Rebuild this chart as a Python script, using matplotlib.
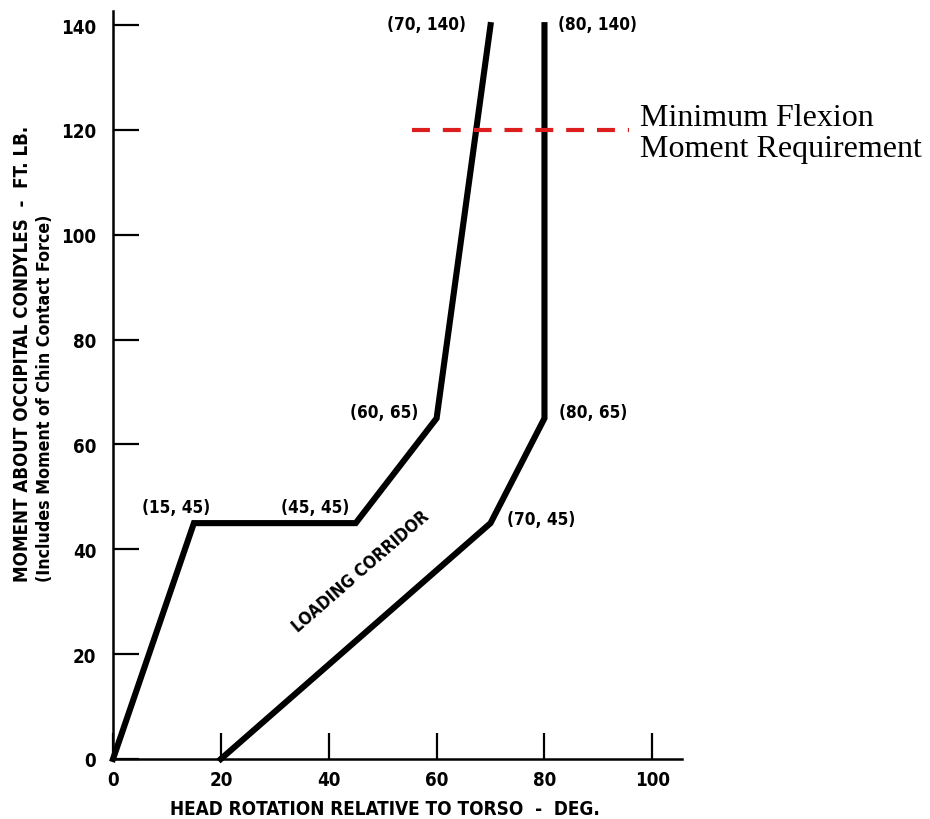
import matplotlib
matplotlib.use('Agg')
import matplotlib.pyplot as plt
from matplotlib import font_manager

# pick a narrow bold sans for the hand-lettered look
def narrow_font():
    files = [f.fname for f in font_manager.fontManager.ttflist]
    wanted = ['LiberationSansNarrow-Bold.', 'DejaVuSansCondensed-Bold.',
              'RobotoCondensed-Bold', 'Roboto_Condensed-Bold', 'NotoSans-CondensedBold',
              'OpenSans-CondensedBold', 'OpenSans_Condensed-Bold']
    for key in wanted:
        for fn in files:
            if key in fn:
                return fn
    for fn in files:
        low = fn.lower()
        if ('condensed' in low or 'narrow' in low) and 'bold' in low and 'italic' not in low:
            return fn
    return None

font_file = narrow_font()


def letter(size):
    if font_file:
        return font_manager.FontProperties(fname=font_file, size=size)
    return font_manager.FontProperties(family='DejaVu Sans', weight='bold', size=size)


# corridor boundaries (deg, ft-lb)
upper_x = [0, 15, 45, 60, 70]
upper_y = [0, 45, 45, 65, 140]
lower_x = [20, 70, 80, 80]
lower_y = [0, 45, 65, 140]

# labelled corner points and where their labels sit (pixel offsets)
corners = [(15, 45), (45, 45), (60, 65), (70, 140), (80, 140), (80, 65), (70, 45)]
corner_offsets = [(-18, 16), (-41, 16), (-52, 6), (-64, 1), (53, 1), (49, 6), (51, 4)]

# minimum flexion moment requirement
req_moment = 120
req_x = [55.5, 95.7]

x_ticks = [0, 20, 40, 60, 80, 100]
y_ticks = [0, 20, 40, 60, 80, 100, 120, 140]

fig = plt.figure(figsize=(9.3, 8.2), dpi=100)
ax = fig.add_axes([113 / 930, 1 - 760 / 820, 569 / 930, 748 / 820])

ax.plot(upper_x, upper_y, color='black', lw=4.4, solid_joinstyle='miter', clip_on=False)
ax.plot(lower_x, lower_y, color='black', lw=4.4, solid_joinstyle='miter', clip_on=False)

for (cx, cy), off in zip(corners, corner_offsets):
    ax.annotate(f'({cx}, {cy})', xy=(cx, cy), xytext=off, textcoords='offset pixels',
                ha='center', va='center', fontproperties=letter(12.3))

ax.text(45.9, 35.9, 'LOADING CORRIDOR', rotation=41, ha='center', va='center',
        fontproperties=letter(12.4), rotation_mode='anchor')

ax.plot(req_x, [req_moment, req_moment], color='#dc1e1e', lw=3.0,
        dashes=(4.3, 3.1), clip_on=False)
ax.text(97.8, req_moment - 0.6, 'Minimum Flexion\nMoment Requirement', family='Liberation Serif',
        fontweight='normal', fontsize=23, ha='left', va='center', linespacing=1.12,
        clip_on=False)

ax.set_xlim(0, 105.5)
ax.set_ylim(0, 142.7)
ax.set_xticks(x_ticks)
ax.set_yticks(y_ticks)
ax.tick_params(direction='in', length=19, width=1.6)
ax.tick_params(axis='x', pad=8)
ax.tick_params(axis='y', pad=12)
for lab in ax.get_xticklabels() + ax.get_yticklabels():
    lab.set_fontproperties(letter(13.5))

for side in ['top', 'right']:
    ax.spines[side].set_visible(False)
for side in ['left', 'bottom']:
    ax.spines[side].set_linewidth(1.8)

fig.text(385 / 930, 1 - 815 / 820, 'HEAD ROTATION RELATIVE TO TORSO  -  DEG.',
         ha='center', va='baseline', fontproperties=letter(13.6))
fig.text(23 / 930, 1 - 582 / 820, 'MOMENT ABOUT OCCIPITAL CONDYLES  -  FT. LB.',
         rotation=90, ha='center', va='bottom', fontproperties=letter(13.4))
fig.text(45 / 930, 1 - 582 / 820, '(Includes Moment of Chin Contact Force)',
         rotation=90, ha='center', va='bottom', fontproperties=letter(12.8))

fig.savefig('out.png', dpi=100, facecolor='white')
